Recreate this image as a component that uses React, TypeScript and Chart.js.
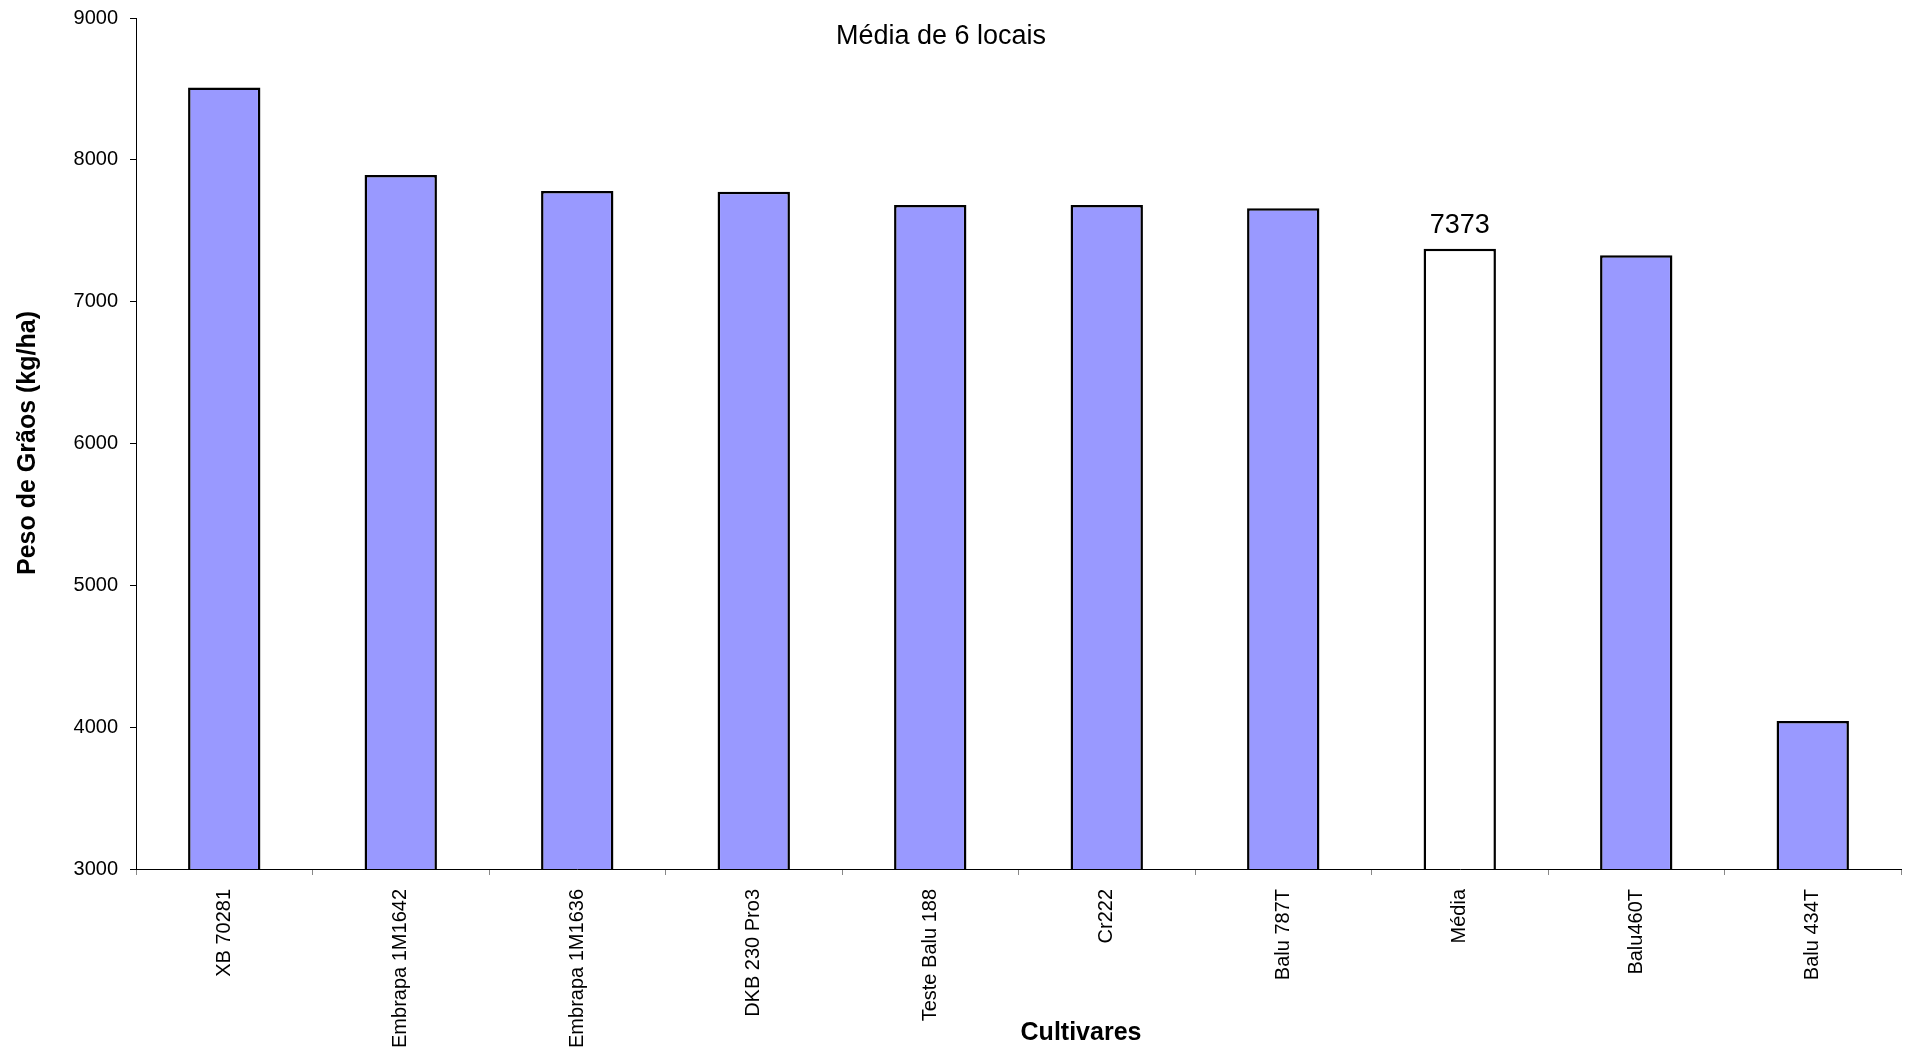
import React, { useEffect, useRef } from "react";
import { Chart, registerables } from "chart.js";

Chart.register(...registerables);

const categories = [
  "XB 70281",
  "Embrapa 1M1642",
  "Embrapa 1M1636",
  "DKB 230 Pro3",
  "Teste Balu 188",
  "Cr222",
  "Balu 787T",
  "Média",
  "Balu460T",
  "Balu 434T",
];
const values = [8510, 7893, 7780, 7775, 7682, 7682, 7658, 7373, 7327, 4044];
const labelledIndex = 7;
const chartTitle = "Média de 6 locais";
const yTitle = "Peso de Grãos (kg/ha)";
const xTitle = "Cultivares";
const yMin = 3000;
const yMax = 9000;
const yStep = 1000;

const FONT = "'Liberation Sans', Arial, sans-serif";

const textPlugin = {
  id: "textPlugin",
  afterDatasetsDraw(chart: any) {
    const ctx = chart.ctx;
    ctx.save();
    ctx.fillStyle = "#000";
    ctx.font = `27px ${FONT}`;
    ctx.textAlign = "center";
    ctx.textBaseline = "alphabetic";
    ctx.fillText(chartTitle, 941, 44);
    const meta = chart.getDatasetMeta(0);
    const el = meta.data[labelledIndex];
    if (el) {
      ctx.font = `27px ${FONT}`;
      ctx.fillText(String(values[labelledIndex]), el.x, el.y - 16);
    }
    ctx.font = `bold 25px ${FONT}`;
    ctx.fillText(xTitle, 1081, 1040);
    ctx.translate(28, 443);
    ctx.rotate(-Math.PI / 2);
    ctx.font = `bold 25px ${FONT}`;
    ctx.textBaseline = "middle";
    ctx.fillText(yTitle, 0, 0);
    ctx.restore();
  },
};

export default function App() {
  const ref = useRef<HTMLCanvasElement>(null);
  useEffect(() => {
    if (!ref.current) return;
    const chart = new Chart(ref.current, {
      type: "bar",
      data: {
        labels: categories,
        datasets: [
          {
            data: values,
            backgroundColor: categories.map((_, i) => (i === labelledIndex ? "#FFFFFF" : "#9999FF")),
            borderColor: "#000000",
            borderWidth: 2.5,
            barPercentage: 0.41,
            categoryPercentage: 1,
          },
        ],
      },
      options: {
        animation: false,
        responsive: false,
        maintainAspectRatio: false,
        layout: { padding: { left: 0, top: 18, right: 8, bottom: 0 } },
        plugins: {
          legend: { display: false },
          tooltip: { enabled: false },
          title: { display: false },
        },
        scales: {
          x: {
            afterFit(scale: any) {
              scale.height = 179;
              scale.paddingLeft = 0;
              scale.paddingRight = 0;
            },
            grid: {
              drawOnChartArea: false,
              drawTicks: true,
              tickLength: 6,
              color: "#888888",
              offset: true,
            },
            border: { display: true, color: "#000000", width: 1 },
            ticks: {
              minRotation: 90,
              maxRotation: 90,
              autoSkip: false,
              padding: 14,
              color: "#000000",
              font: { family: FONT, size: 20 },
            },
          },
          y: {
            min: yMin,
            max: yMax,
            afterFit(scale: any) {
              scale.width = 136;
              scale.paddingTop = 0;
              scale.paddingBottom = 0;
            },
            grid: {
              drawOnChartArea: false,
              drawTicks: true,
              tickLength: 6,
              color: "#000000",
            },
            border: { display: true, color: "#000000", width: 1 },
            ticks: {
              stepSize: yStep,
              padding: 12,
              color: "#000000",
              font: { family: FONT, size: 20 },
              callback: (v: any) => String(v),
            },
          },
        },
      },
      plugins: [textPlugin],
    });
    return () => chart.destroy();
  }, []);
  return (
    <div style={{ position: "absolute", left: 0, top: 0, width: 1909, height: 1048, background: "#fff" }}>
      <canvas ref={ref} width={1909} height={1048} style={{ display: "block" }} />
    </div>
  );
}
